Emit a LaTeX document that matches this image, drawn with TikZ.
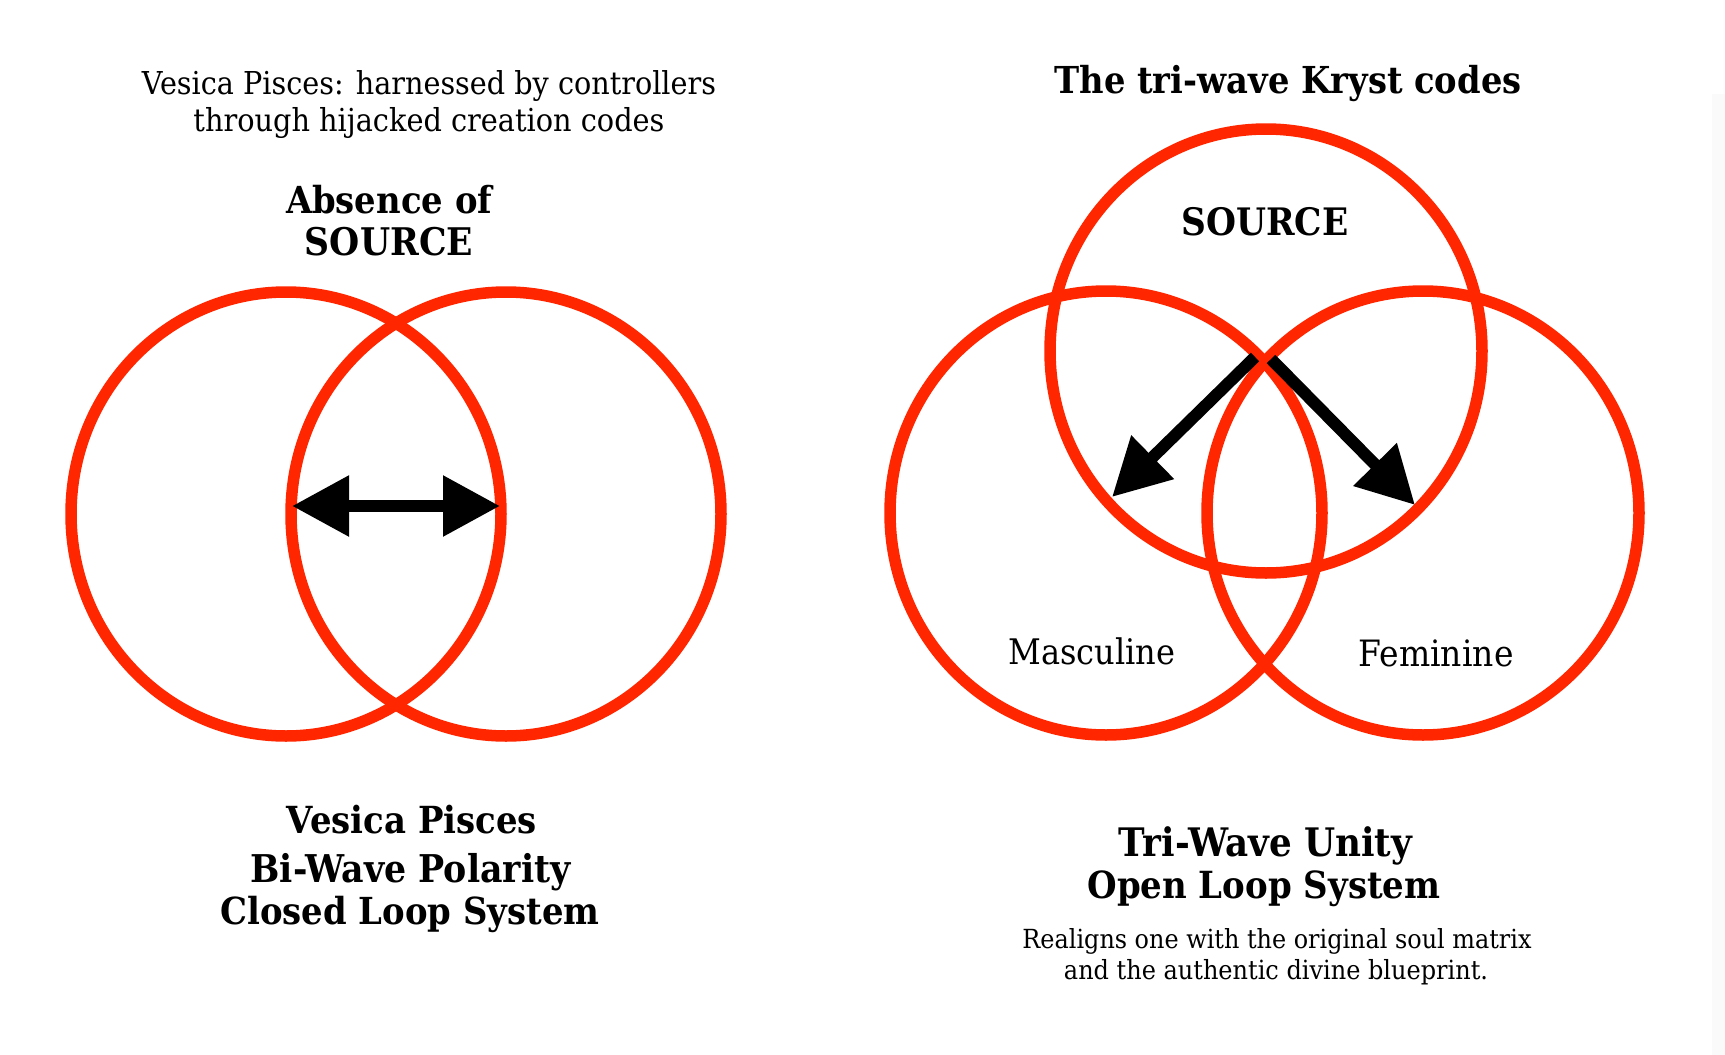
\documentclass[tikz,border=0pt]{standalone}
\usepackage{fontspec}
\setmainfont{DejaVu Serif}
\usetikzlibrary{arrows.meta}
\definecolor{ringred}{RGB}{255,38,0}
\definecolor{faintgray}{RGB}{250,250,250}
\newcommand{\fitw}[2]{\scalebox{1}[1.1]{\resizebox{#1pt}{!}{#2}}}
\begin{document}
\begin{tikzpicture}[x=1pt,y=-1pt,
  ring/.style={draw=ringred, line width=11.5pt},
  arr/.style={line width=12pt, draw=black, -{Triangle[length=57pt,width=58pt]}},
  dblarr/.style={line width=12pt, draw=black, {Triangle[length=57pt,width=58pt]}-{Triangle[length=57pt,width=58pt]}},
  lbl/.style={inner sep=0pt, anchor=base},
]
\useasboundingbox (0,0) rectangle (1725,1055);
\fill[white] (0,0) rectangle (1725,1055);
\fill[faintgray] (1712,94) rectangle (1725,1055);

% left vesica
\draw[ring] (286,514) ellipse [x radius=215, y radius=222];
\draw[ring] (506,514) ellipse [x radius=215, y radius=222];

% right tri-wave
\draw[ring] (1266,351) ellipse [x radius=216, y radius=222];
\draw[ring] (1106,513) ellipse [x radius=216, y radius=222];
\draw[ring] (1423,513) ellipse [x radius=216, y radius=222];

% arrows
\coordinate (la) at (292,506);
\coordinate (lb) at (500,506);
\draw[dblarr] (la) -- (lb);

\coordinate (s1) at (1255,357);
\coordinate (s2) at (1271,359);
\coordinate (m1) at (1112,497);
\coordinate (f1) at (1415,505);
\draw[arr] (s1) -- (m1);
\draw[arr] (s2) -- (f1);

% texts left
\node[lbl] (t1) at (429,94) {\fitw{574}{Vesica Pisces: harnessed by controllers}};
\node[lbl] (t2) at (429,131) {\fitw{471}{through hijacked creation codes}};
\node[lbl] (abs) at (390,213) {\fitw{208}{\textbf{Absence of}}};
\node[lbl] (srcl) at (389,255) {\fitw{168}{\textbf{SOURCE}}};

\node[lbl] (vp) at (412,833) {\fitw{250}{\textbf{Vesica Pisces}}};
\node[lbl] (bw) at (411,882) {\fitw{321}{\textbf{Bi-Wave Polarity}}};
\node[lbl] (cl) at (410,924) {\fitw{379}{\textbf{Closed Loop System}}};

% texts right
\node[lbl] (tk) at (1288,93) {\fitw{467}{\textbf{The tri-wave Kryst codes}}};
\node[lbl] (srcr) at (1265,235) {\fitw{167}{\textbf{SOURCE}}};
\node[lbl] (masc) at (1092,664) {\fitw{167}{Masculine}};
\node[lbl] (fem) at (1436,666) {\fitw{155}{Feminine}};

\node[lbl] (tu) at (1266,856) {\fitw{294}{\textbf{Tri-Wave Unity}}};
\node[lbl] (ol) at (1264,898) {\fitw{353}{\textbf{Open Loop System}}};
\node[lbl] (ra) at (1277,948) {\fitw{509}{Realigns one with the original soul matrix}};
\node[lbl] (ab) at (1276,979) {\fitw{424}{and the authentic divine blueprint.}};
\end{tikzpicture}
\end{document}
